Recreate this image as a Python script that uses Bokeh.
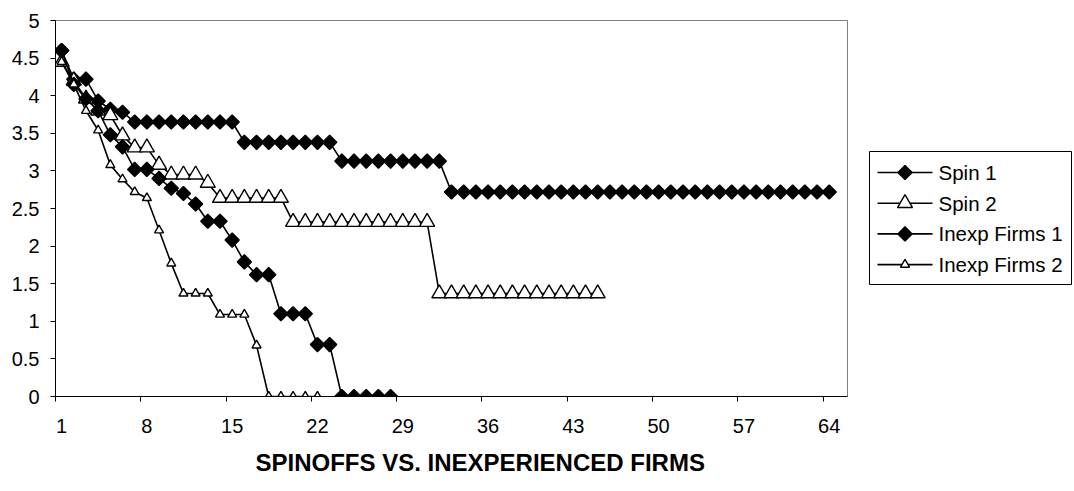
import math

from bokeh.core.properties import value
from bokeh.embed import file_html
from bokeh.layouts import row
from bokeh.models import FixedTicker, Range1d, Title
from bokeh.plotting import figure
from bokeh.resources import INLINE

# Period index shared by all series
periods = list(range(1, 65))

spin_1 = [4.60, 4.22, 4.22, 3.93, 3.82, 3.78, 3.65, 3.65, 3.65, 3.65,
          3.65, 3.65, 3.65, 3.65, 3.65, 3.38, 3.38, 3.38, 3.38, 3.38,
          3.38, 3.38, 3.38, 3.13, 3.13, 3.13, 3.13, 3.13, 3.13, 3.13,
          3.13, 3.13, 2.72, 2.72, 2.72, 2.72, 2.72, 2.72, 2.72, 2.72,
          2.72, 2.72, 2.72, 2.72, 2.72, 2.72, 2.72, 2.72, 2.72, 2.72,
          2.72, 2.72, 2.72, 2.72, 2.72, 2.72, 2.72, 2.72, 2.72, 2.72,
          2.72, 2.72, 2.72, 2.72]

spin_2 = [4.45, 4.20, 3.96, 3.80, 3.74, 3.47, 3.31, 3.31, 3.08, 2.95,
          2.95, 2.95, 2.84, 2.64, 2.64, 2.64, 2.64, 2.64, 2.64, 2.32,
          2.32, 2.32, 2.32, 2.32, 2.32, 2.32, 2.32, 2.32, 2.32, 2.32,
          2.32, 1.37, 1.37, 1.37, 1.37, 1.37, 1.37, 1.37, 1.37, 1.37,
          1.37, 1.37, 1.37, 1.37, 1.37]

inexp_firms_1 = [4.60, 4.15, 3.96, 3.80, 3.48, 3.32, 3.02, 3.02, 2.90, 2.77,
                 2.70, 2.56, 2.33, 2.33, 2.08, 1.79, 1.62, 1.62, 1.10, 1.10,
                 1.10, 0.69, 0.69, 0.00, 0.00, 0.00, 0.00, 0.00]

inexp_firms_2 = [4.45, 4.15, 3.80, 3.54, 3.08, 2.89, 2.72, 2.64, 2.21, 1.77,
                 1.37, 1.37, 1.37, 1.09, 1.09, 1.09, 0.68, 0.00, 0.00, 0.00,
                 0.00, 0.00]

series_names = ["Spin 1", "Spin 2", "Inexp Firms 1", "Inexp Firms 2"]

x_tick_labels = ["1", "8", "15", "22", "29", "36", "43", "50", "57", "64"]
y_tick_values = [0, 0.5, 1, 1.5, 2, 2.5, 3, 3.5, 4, 4.5, 5]
y_tick_labels = ["0", "0.5", "1", "1.5", "2", "2.5", "3", "3.5", "4", "4.5", "5"]

FONT = "Liberation Sans"
TOTAL_W, TOTAL_H = 1074, 491
LEGEND_W = 226
FRAME_TOP, FRAME_BOTTOM = 20, 396

p = figure(width=TOTAL_W - LEGEND_W, height=TOTAL_H,
           output_backend="svg", toolbar_location=None,
           x_range=Range1d(0.5, 65.5), y_range=Range1d(0, 5),
           min_border_left=55, min_border_right=1,
           min_border_top=FRAME_TOP, min_border_bottom=TOTAL_H - FRAME_BOTTOM,
           background_fill_color="white", border_fill_color="white")

p.grid.visible = False
p.outline_line_color = "#808080"
p.outline_line_width = 1

# Category axis: labels on category centres, tick marks on category boundaries
label_pos = [int(s) for s in x_tick_labels]
xa = p.xaxis[0]
xa.ticker = FixedTicker(ticks=label_pos, minor_ticks=[v - 0.5 for v in label_pos])
xa.major_label_overrides = {v: s for v, s in zip(label_pos, x_tick_labels)}
xa.major_tick_line_color = None
xa.minor_tick_line_color = "black"
xa.minor_tick_out = 5
xa.minor_tick_in = 0
xa.axis_line_color = "black"
xa.major_label_standoff = 16
xa.major_label_text_font = FONT
xa.major_label_text_font_size = "20px"
xa.major_label_text_color = "black"

ya = p.yaxis[0]
ya.ticker = FixedTicker(ticks=y_tick_values, minor_ticks=[])
ya.major_label_overrides = {v: s for v, s in zip(y_tick_values, y_tick_labels)}
ya.major_tick_out = 5
ya.major_tick_in = 0
ya.major_tick_line_color = "black"
ya.minor_tick_line_color = None
ya.axis_line_color = "black"
ya.major_label_standoff = 11
ya.major_label_text_font = FONT
ya.major_label_text_font_size = "20px"
ya.major_label_text_color = "black"

diamond_angle = math.pi / 4

# name, values, marker, size, fill, angle
styles = [
    (series_names[0], spin_1, "square", 10, "black", diamond_angle),
    (series_names[1], spin_2, "triangle", 15, "white", 0),
    (series_names[2], inexp_firms_1, "square", 10, "black", diamond_angle),
    (series_names[3], inexp_firms_2, "triangle", 9, "white", 0),
]

for name, vals, marker, size, fill, ang in styles:
    xs = periods[:len(vals)]
    p.line(xs, vals, line_color="black", line_width=1.6)
    p.scatter(xs, vals, marker=marker, size=size, angle=ang,
              fill_color=fill, line_color="black", line_width=1.4)

title = Title(text="SPINOFFS VS. INEXPERIENCED FIRMS", align="left", offset=200,
              text_font=FONT, text_font_size="24px", text_font_style="bold",
              text_color="black", standoff=22)
p.add_layout(title, "below")

# Legend panel beside the chart; its frame lines up with the chart's frame,
# so its y range is expressed in page pixels (growing downward).
lg = figure(width=LEGEND_W, height=TOTAL_H, output_backend="svg",
            toolbar_location=None, x_axis_location=None, y_axis_location=None,
            x_range=Range1d(0, LEGEND_W), y_range=Range1d(FRAME_BOTTOM, FRAME_TOP),
            min_border=0, outline_line_color=None,
            background_fill_color="white", border_fill_color="white")
lg.grid.visible = False

box_left, box_right, box_top, box_bottom = 21, 223, 151, 284
first_row, row_step = 172, 30.7
key_x0, key_x1 = box_left + 8, box_left + 63
label_x = key_x1 + 6

lg.quad(left=[box_left], right=[box_right], top=[box_top], bottom=[box_bottom],
        fill_color="white", line_color="black", line_width=1)

for k, (name, vals, marker, size, fill, ang) in enumerate(styles):
    cy = first_row + row_step * k
    lg.line([key_x0, key_x1], [cy, cy], line_color="black", line_width=1.6)
    lg.scatter([(key_x0 + key_x1) / 2], [cy], marker=marker, size=size, angle=ang,
               fill_color=fill, line_color="black", line_width=1.4)
    lg.text([label_x], [cy], text=[name], text_font=value(FONT),
            text_font_size="20.5px", text_baseline="middle", text_align="left",
            text_color="black")

layout = row(p, lg, spacing=0)

open("out.html", "w").write(file_html(layout, INLINE))
